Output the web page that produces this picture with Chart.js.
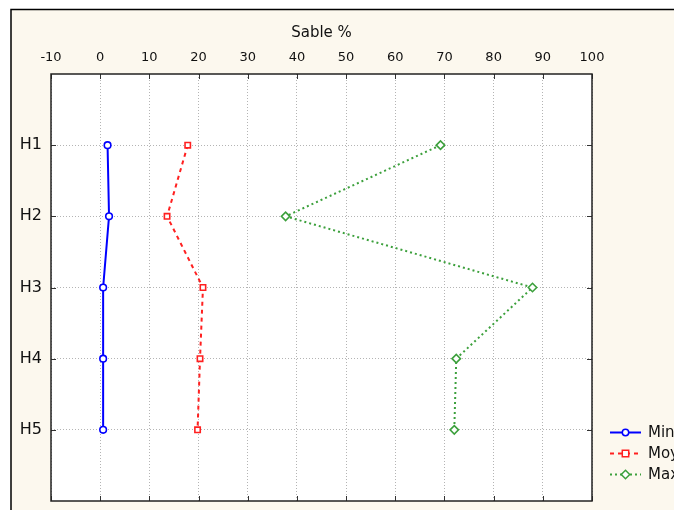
<!DOCTYPE html>
<html>
<head>
<meta charset="utf-8">
<script src="https://cdn.jsdelivr.net/npm/chart.js@4"></script>
<style>
  html, body { margin: 0; padding: 0; background: #fff; }
  #wrap { width: 674px; height: 510px; }
</style>
</head>
<body>
<div id="wrap"><canvas id="chart" width="674" height="510"></canvas></div>
<script>
// ==================== DATA ====================
const horizons = ["H1", "H2", "H3", "H4", "H5"];
const minVals = [1.5, 1.8, 0.6, 0.6, 0.6];
const moyVals = [17.8, 13.6, 20.9, 20.3, 19.8];
const maxVals = [69.2, 37.7, 87.9, 72.4, 72.0];
const seriesNames = ["Min", "Moy", "Max"];
const xTicks = [-10, 0, 10, 20, 30, 40, 50, 60, 70, 80, 90, 100];

const CREAM = "#fcf8ee";
const FONT = "'DejaVu Sans', Verdana, sans-serif";

// plot box in px
const box = { left: 51, top: 74, right: 592, bottom: 501 };

function toPoints(vals) {
  return vals.map((v, i) => ({ x: v, y: i + 1 }));
}

// background, frame and white plot area
const framePlugin = {
  id: "frame",
  beforeDraw(chart) {
    const ctx = chart.ctx;
    ctx.save();
    ctx.fillStyle = "#fff";
    ctx.fillRect(0, 0, chart.width, chart.height);
    ctx.fillStyle = CREAM;
    ctx.fillRect(11, 9, chart.width - 11, chart.height - 9);
    ctx.strokeStyle = "#000";
    ctx.lineWidth = 1.5;
    ctx.beginPath();
    ctx.moveTo(11, chart.height);
    ctx.lineTo(11, 9.5);
    ctx.lineTo(chart.width, 9.5);
    ctx.stroke();
    const a = chart.chartArea;
    ctx.fillStyle = "#fff";
    ctx.fillRect(a.left, a.top, a.right - a.left, a.bottom - a.top);
    ctx.restore();
  },
  afterDatasetsDraw(chart) {
    const ctx = chart.ctx, a = chart.chartArea;
    const xs = chart.scales.x, ys = chart.scales.y;
    ctx.save();
    ctx.strokeStyle = "#333";
    ctx.lineWidth = 1;
    ctx.beginPath();
    // small inner ticks on all four sides
    xTicks.forEach(t => {
      const px = Math.round(xs.getPixelForValue(t)) + 0.5;
      ctx.moveTo(px, a.top); ctx.lineTo(px, a.top + 5);
      ctx.moveTo(px, a.bottom); ctx.lineTo(px, a.bottom - 5);
    });
    horizons.forEach((h, i) => {
      const py = Math.round(ys.getPixelForValue(i + 1)) + 0.5;
      ctx.moveTo(a.left, py); ctx.lineTo(a.left + 5, py);
      ctx.moveTo(a.right, py); ctx.lineTo(a.right - 5, py);
    });
    ctx.stroke();
    ctx.lineWidth = 1.5;
    ctx.strokeStyle = "#222";
    ctx.strokeRect(a.left, a.top, a.right - a.left, a.bottom - a.top);
    ctx.restore();
  }
};

// legend, bottom right, partly cut by the canvas edge
const legendPlugin = {
  id: "sideLegend",
  afterDraw(chart) {
    const ctx = chart.ctx;
    ctx.save();
    ctx.font = "15px " + FONT;
    ctx.textBaseline = "middle";
    chart.data.datasets.forEach((ds, i) => {
      const y = 432 + i * 21;
      ctx.strokeStyle = ds.borderColor;
      ctx.lineWidth = ds.borderWidth;
      ctx.setLineDash(ds.borderDash || []);
      ctx.beginPath();
      ctx.moveTo(610, y + 0.5); ctx.lineTo(641, y + 0.5);
      ctx.stroke();
      ctx.setLineDash([]);
      ctx.fillStyle = "#fff";
      ctx.lineWidth = 1.5;
      const cx = 625.5, r = 3.2;
      ctx.beginPath();
      if (ds.pointStyle === "circle") ctx.arc(cx, y + 0.5, r, 0, Math.PI * 2);
      else if (ds.pointStyle === "rect") ctx.rect(cx - r, y + 0.5 - r, r * 2, r * 2);
      else { ctx.moveTo(cx, y - r - 0.5); ctx.lineTo(cx + r + 1, y + 0.5); ctx.lineTo(cx, y + r + 1.5); ctx.lineTo(cx - r - 1, y + 0.5); ctx.closePath(); }
      ctx.fill(); ctx.stroke();
      ctx.fillStyle = "#111";
      ctx.fillText(ds.label, 648, y + 1);
    });
    ctx.restore();
  }
};

new Chart(document.getElementById("chart"), {
  type: "line",
  data: {
    datasets: [
      { label: seriesNames[0], data: toPoints(minVals), borderColor: "#0000ff", borderWidth: 2,
        pointStyle: "circle", pointRadius: 3.3, pointBackgroundColor: "#fff", pointBorderColor: "#0000ff", pointBorderWidth: 1.6 },
      { label: seriesNames[1], data: toPoints(moyVals), borderColor: "#ff2020", borderWidth: 2, borderDash: [4, 4],
        pointStyle: "rect", pointRadius: 3.8, pointBackgroundColor: "#fff", pointBorderColor: "#ff2020", pointBorderWidth: 1.6 },
      { label: seriesNames[2], data: toPoints(maxVals), borderColor: "#3ca03c", borderWidth: 2, borderDash: [2, 3],
        pointStyle: "rectRot", pointRadius: 4.2, pointBackgroundColor: "#fff", pointBorderColor: "#3ca03c", pointBorderWidth: 1.6 }
    ]
  },
  options: {
    responsive: false,
    animation: false,
    devicePixelRatio: 1,
    layout: { padding: { left: 0, top: 0, right: 674 - box.right, bottom: 510 - box.bottom } },
    plugins: { legend: { display: false }, tooltip: { enabled: false } },
    elements: { line: { tension: 0 } },
    scales: {
      x: {
        type: "linear",
        position: "top",
        min: -10, max: 100,
        afterBuildTicks: s => { s.ticks = xTicks.map(v => ({ value: v })); },
        afterFit: s => { s.height = box.top; s.paddingLeft = 0; s.paddingRight = 0; },
        ticks: { font: { family: FONT, size: 13 }, color: "#111", padding: 9, maxRotation: 0 },
        grid: { color: "#b4b4b4", drawTicks: false, lineWidth: 1 },
        border: { display: false, dash: [1, 2] },
        title: { display: true, text: "Sable %", font: { family: FONT, size: 15 }, color: "#111", padding: { top: 24, bottom: 0 } }
      },
      y: {
        type: "linear",
        reverse: true,
        min: 0, max: 6,
        afterBuildTicks: s => { s.ticks = horizons.map((h, i) => ({ value: i + 1 })); },
        afterFit: s => { s.width = box.left; s.paddingTop = 0; s.paddingBottom = 0; },
        ticks: { font: { family: FONT, size: 16 }, color: "#111", padding: 9, callback: v => horizons[v - 1] },
        grid: { color: "#b4b4b4", drawTicks: false, lineWidth: 1 },
        border: { display: false, dash: [1, 2] }
      }
    }
  },
  plugins: [framePlugin, legendPlugin]
});
</script>
</body>
</html>
